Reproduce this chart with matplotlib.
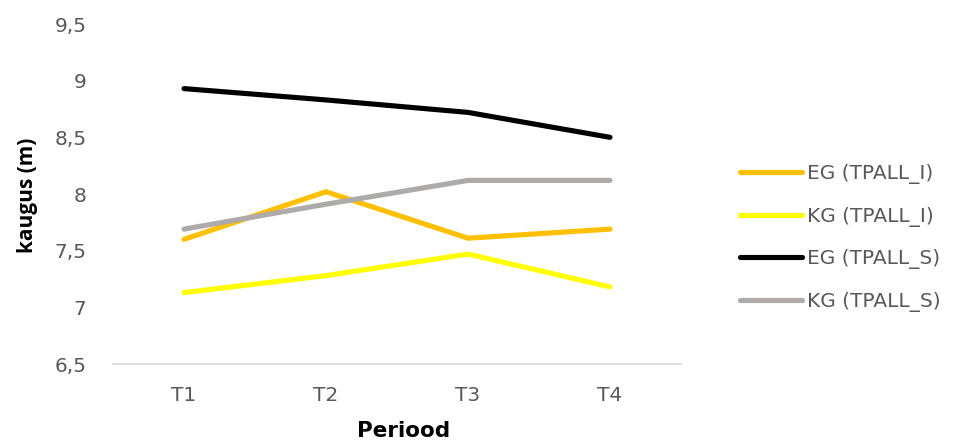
import matplotlib
matplotlib.use("Agg")
import matplotlib.pyplot as plt
from matplotlib.ticker import FixedLocator

periods = ["T1", "T2", "T3", "T4"]
eg_tpall_i = [7.60, 8.02, 7.61, 7.69]
kg_tpall_i = [7.13, 7.28, 7.47, 7.18]
eg_tpall_s = [8.93, 8.83, 8.72, 8.50]
kg_tpall_s = [7.69, 7.91, 8.12, 8.12]
series_names = ["EG (TPALL_I)", "KG (TPALL_I)", "EG (TPALL_S)", "KG (TPALL_S)"]
y_ticks = [6.5, 7, 7.5, 8, 8.5, 9, 9.5]
y_tick_labels = ["6,5", "7", "7,5", "8", "8,5", "9", "9,5"]

colors = ["#FFC000", "#FFFF00", "#000000", "#AEAAAA"]

plt.rcParams["font.family"] = ["DejaVu Sans"]

fig = plt.figure(figsize=(9.55, 4.42), dpi=100)
ax = fig.add_axes([113 / 955, 1 - 364 / 442, (681 - 113) / 955, (364 - 24) / 442])

x = list(range(len(periods)))
for vals, name, c in zip([eg_tpall_i, kg_tpall_i, eg_tpall_s, kg_tpall_s], series_names, colors):
    ax.plot(x, vals, color=c, lw=3.7, solid_capstyle="round", solid_joinstyle="round", label=name)

ax.set_xlim(-0.5, len(periods) - 0.5)
ax.set_ylim(6.5, 9.5)
ax.set_xticks(x)
ax.set_xticklabels(periods)
ax.yaxis.set_major_locator(FixedLocator(y_ticks))
ax.set_yticklabels(y_tick_labels)
ax.tick_params(axis="both", length=0, labelsize=14.5, labelcolor="#595959")
ax.tick_params(axis="y", pad=19)
ax.tick_params(axis="x", pad=16)

for s in ["top", "right", "left"]:
    ax.spines[s].set_visible(False)
ax.spines["bottom"].set_color("#D9D9D9")
ax.spines["bottom"].set_linewidth(1.2)

fig.text(28 / 955, 1 - 195 / 442, "kaugus (m)", rotation=90, ha="center", va="center",
         fontsize=15, fontweight="bold", color="#000000", family=["Open Sans", "DejaVu Sans"])
fig.text(404 / 955, 1 - 431 / 442, "Periood", ha="center", va="center",
         fontsize=15.5, fontweight="bold", color="#000000")

fig.legend(loc="center left", bbox_to_anchor=(740 / 955, 1 - 238 / 442),
           frameon=False, fontsize=14.5, labelcolor="#595959", handlelength=3.1,
           handletextpad=0.25, labelspacing=1.12, borderpad=0, borderaxespad=0)

fig.savefig("out.png", dpi=100, facecolor="white")
